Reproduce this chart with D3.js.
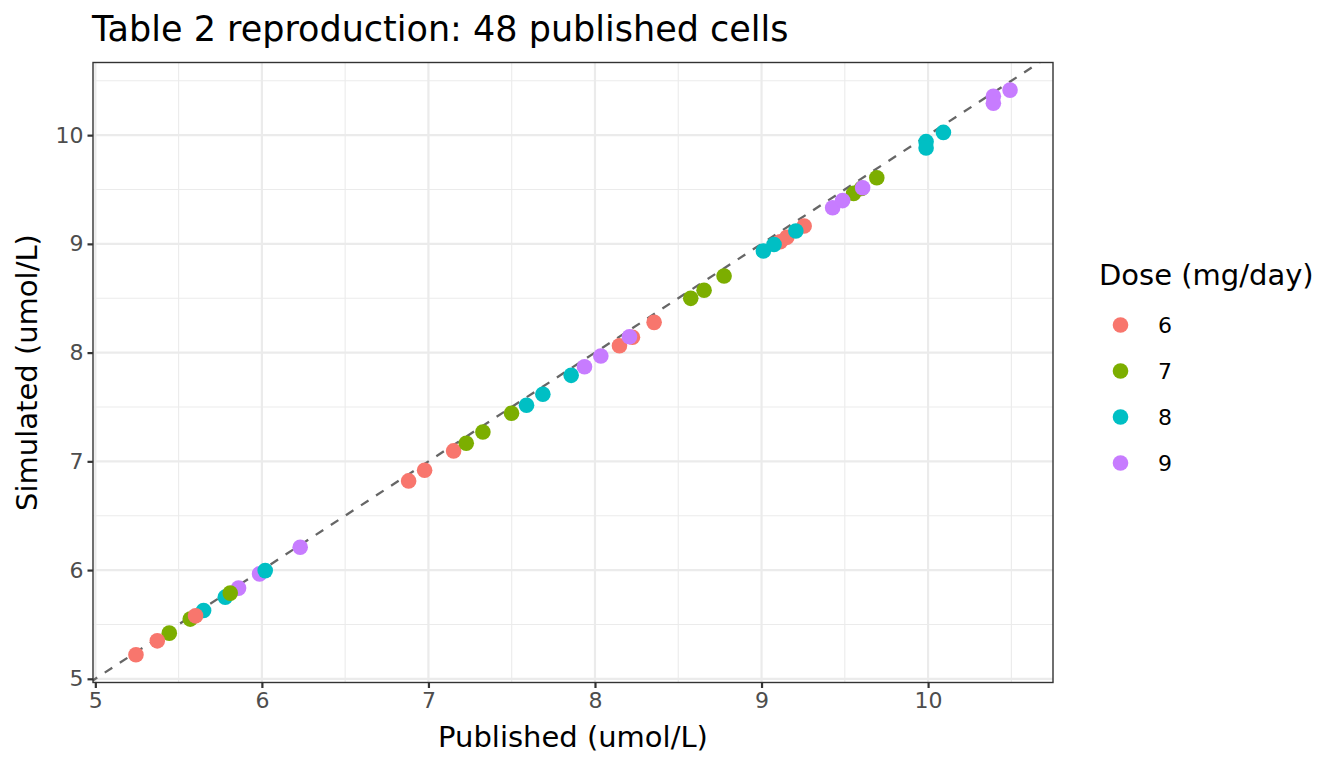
<!DOCTYPE html>
<html>
<head>
<meta charset="utf-8">
<script src="https://cdn.jsdelivr.net/npm/d3@7"></script>
<style>
  body { margin: 0; background: #fff; }
  svg { font-family: "DejaVu Sans", sans-serif; }
</style>
</head>
<body>
<div id="chart"></div>
<script>
// rows of the reproduced table, in drawing order
const dose = [
  9, 9, 9, 8, 8, 8, 7, 7, 7, 6, 6, 6,
  6, 6, 6, 6, 6, 6, 6, 6, 6,
  7, 7, 7, 7, 7, 7, 7, 7, 7,
  8, 8, 8, 8, 8, 8, 8, 8, 8,
  9, 9, 9, 9, 9, 9, 9, 9, 9
];
const published = [
  5.860, 5.986, 6.230, 5.650, 5.780, 6.020, 5.444, 5.570, 5.810, 5.244, 5.372, 5.602,
  6.881, 6.977, 7.151, 8.147, 8.225, 8.355, 9.112, 9.152, 9.256,
  7.227, 7.327, 7.499, 8.575, 8.655, 8.775, 9.553, 9.600, 9.692,
  7.589, 7.687, 7.857, 9.011, 9.075, 9.206, 9.988, 9.988, 10.092,
  7.937, 8.035, 8.207, 9.427, 9.487, 9.607, 10.392, 10.392, 10.492
];
const simulated = [
  5.834, 5.965, 6.210, 5.628, 5.751, 5.995, 5.420, 5.549, 5.788, 5.221, 5.349, 5.579,
  6.820, 6.918, 7.096, 8.063, 8.141, 8.278, 9.019, 9.060, 9.164,
  7.166, 7.270, 7.442, 8.499, 8.573, 8.704, 9.464, 9.510, 9.608,
  7.516, 7.617, 7.791, 8.934, 8.994, 9.118, 9.940, 9.881, 10.025,
  7.870, 7.969, 8.146, 9.332, 9.398, 9.516, 10.358, 10.294, 10.414
];
const doseLevels = [6, 7, 8, 9];
const doseColors = ['#F8766D', '#7CAE00', '#00BFC4', '#C77CFF'];
const majorTicks = [5, 6, 7, 8, 9, 10];
const minorTicks = [5.5, 6.5, 7.5, 8.5, 9.5, 10.5];

const width = 1344;
const height = 768;
const panel = {left: 93, right: 1053, top: 62.5, bottom: 682.5};

const svg = d3.select('#chart')
  .append('svg')
  .attr('width', width)
  .attr('height', height);

const x = d3.scaleLinear().domain([4.986, 10.750]).range([panel.left, panel.right]);
const y = d3.scaleLinear().domain([4.966, 10.668]).range([panel.bottom, panel.top]);
const color = d3.scaleOrdinal().domain(doseLevels).range(doseColors);

// grid
const grid = svg.append('g');
grid.selectAll('.vminor').data(minorTicks).enter().append('line')
  .attr('x1', d => x(d)).attr('x2', d => x(d))
  .attr('y1', panel.top).attr('y2', panel.bottom)
  .attr('stroke', '#ebebeb').attr('stroke-width', 1.1);
grid.selectAll('.hminor').data(minorTicks).enter().append('line')
  .attr('y1', d => y(d)).attr('y2', d => y(d))
  .attr('x1', panel.left).attr('x2', panel.right)
  .attr('stroke', '#ebebeb').attr('stroke-width', 1.1);
grid.selectAll('.vmajor').data(majorTicks).enter().append('line')
  .attr('x1', d => x(d)).attr('x2', d => x(d))
  .attr('y1', panel.top).attr('y2', panel.bottom)
  .attr('stroke', '#ebebeb').attr('stroke-width', 2.2);
grid.selectAll('.hmajor').data(majorTicks).enter().append('line')
  .attr('y1', d => y(d)).attr('y2', d => y(d))
  .attr('x1', panel.left).attr('x2', panel.right)
  .attr('stroke', '#ebebeb').attr('stroke-width', 2.2);

// identity line, clipped to panel
svg.append('clipPath').attr('id', 'clip')
  .append('rect')
  .attr('x', panel.left).attr('y', panel.top)
  .attr('width', panel.right - panel.left).attr('height', panel.bottom - panel.top);

const lo = Math.min(x.domain()[0], y.domain()[0]);
const hi = Math.max(x.domain()[1], y.domain()[1]);
svg.append('line')
  .attr('clip-path', 'url(#clip)')
  .attr('x1', x(lo)).attr('y1', y(lo))
  .attr('x2', x(hi)).attr('y2', y(hi))
  .attr('stroke', '#666666')
  .attr('stroke-width', 2.3)
  .attr('stroke-dasharray', '9,9');

// points
const rows = published.map((p, i) => ({pub: p, sim: simulated[i], dose: dose[i]}));
svg.append('g').selectAll('circle')
  .data(rows).enter().append('circle')
  .attr('cx', d => x(d.pub))
  .attr('cy', d => y(d.sim))
  .attr('r', 7.8)
  .attr('fill', d => color(d.dose));

// panel border
svg.append('rect')
  .attr('x', panel.left).attr('y', panel.top)
  .attr('width', panel.right - panel.left).attr('height', panel.bottom - panel.top)
  .attr('fill', 'none').attr('stroke', '#333333').attr('stroke-width', 1.4);

// axes
const xAxis = svg.append('g')
  .attr('transform', `translate(0, ${panel.bottom})`)
  .call(d3.axisBottom(x).tickValues(majorTicks).tickSize(5.5).tickPadding(4).tickFormat(d3.format('d')));
const yAxis = svg.append('g')
  .attr('transform', `translate(${panel.left}, 0)`)
  .call(d3.axisLeft(y).tickValues(majorTicks).tickSize(5.5).tickPadding(4).tickFormat(d3.format('d')));

[xAxis, yAxis].forEach(a => {
  a.select('.domain').remove();
  a.selectAll('.tick line').attr('stroke', '#333333').attr('stroke-width', 2.2);
  a.selectAll('.tick text')
    .attr('fill', '#4d4d4d')
    .style('font-size', '22px')
    .style('font-family', '"DejaVu Sans", sans-serif');
});

// titles
svg.append('text')
  .attr('x', 92).attr('y', 41)
  .style('font-size', '35px')
  .attr('fill', '#000')
  .text('Table 2 reproduction: 48 published cells');

svg.append('text')
  .attr('x', (panel.left + panel.right) / 2).attr('y', 747)
  .attr('text-anchor', 'middle')
  .style('font-size', '29px')
  .text('Published (umol/L)');

svg.append('text')
  .attr('transform', `translate(37, ${(panel.top + panel.bottom) / 2}) rotate(-90)`)
  .attr('text-anchor', 'middle')
  .style('font-size', '29px')
  .text('Simulated (umol/L)');

// legend
const legend = svg.append('g').attr('transform', 'translate(1099, 0)');
legend.append('text')
  .attr('x', 0).attr('y', 285)
  .style('font-size', '29px')
  .text('Dose (mg/day)');

const keys = legend.selectAll('.key')
  .data(doseLevels).enter().append('g')
  .attr('transform', (d, i) => `translate(0, ${325 + i * 46})`);
keys.append('circle')
  .attr('cx', 21.5).attr('cy', 0)
  .attr('r', 7.8)
  .attr('fill', d => color(d));
keys.append('text')
  .attr('x', 59).attr('y', 0)
  .attr('dy', '0.36em')
  .style('font-size', '22px')
  .text(d => d);
</script>
</body>
</html>
